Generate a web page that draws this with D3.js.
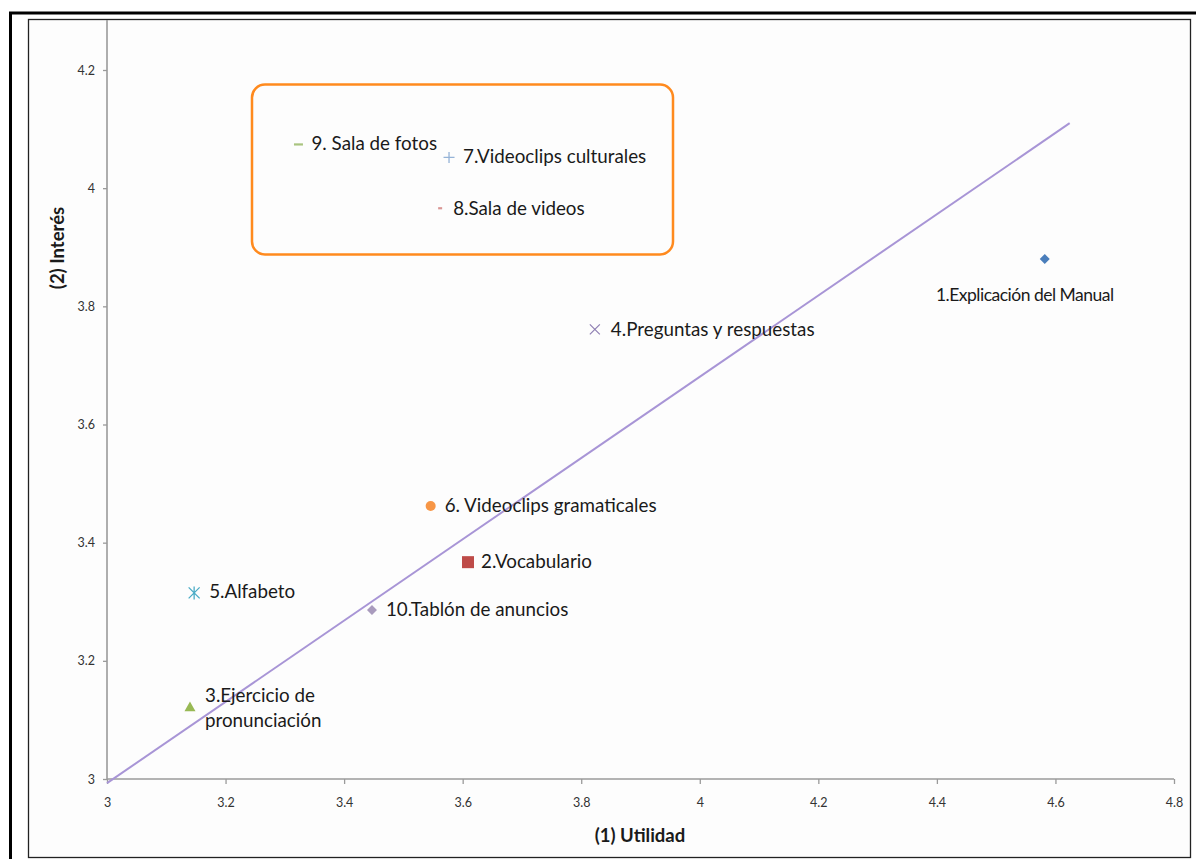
<!DOCTYPE html>
<html>
<head>
<meta charset="utf-8">
<script src="https://cdn.jsdelivr.net/npm/d3@7"></script>
<style>
  body { margin: 0; background: #fff; }
  text { font-family: Lato, "Open Sans", sans-serif; }
</style>
</head>
<body>
<div id="chart"></div>
<script>
// values
var labels = [
    "1.Explicación del Manual", "2.Vocabulario", "3.Ejercicio de\npronunciación",
    "4.Preguntas y respuestas", "5.Alfabeto", "6. Videoclips gramaticales",
    "7.Videoclips culturales", "8.Sala de videos", "9. Sala de fotos",
    "10.Tablón de anuncios"
];
var utilidad = [4.582, 3.609, 3.140, 3.823, 3.147, 3.546, 3.577, 3.562, 3.323, 3.447];
var interes  = [3.880, 3.367, 3.122, 3.761, 3.315, 3.462, 4.052, 3.966, 4.074, 3.286];
var xTicks = [3, 3.2, 3.4, 3.6, 3.8, 4, 4.2, 4.4, 4.6, 4.8];
var yTicks = [3, 3.2, 3.4, 3.6, 3.8, 4, 4.2];
var trendX = [3, 4.624];
var trendY = [2.993, 4.110];

// look of each series (Excel 2007 style markers)
var looks = [
    { sym: "diamond", color: "#4a7ebb", size: 5, dx: -20, dy: 38, anchor: "middle", fs: 17.5, ls: -0.5 },
    { sym: "square",  color: "#be4b48", size: 6, dx: 13, dy: 1 },
    { sym: "triangle", color: "#98b954", size: 5.5, dx: 15, dy: -10 },
    { sym: "x",       color: "#8f7fb3", size: 5, dx: 16, dy: 2 },
    { sym: "star",    color: "#4bacc6", size: 5.5, dx: 15, dy: 0 },
    { sym: "circle",  color: "#f79646", size: 5, dx: 14, dy: 1 },
    { sym: "plus",    color: "#95b3d7", size: 5.5, dx: 14, dy: 1 },
    { sym: "dash",    color: "#d99694", size: 2, dx: 13, dy: 2 },
    { sym: "dash",    color: "#a9c47f", size: 4.5, dx: 13, dy: 1 },
    { sym: "diamond", color: "#a99bbd", size: 5, dx: 14, dy: 1 }
];

var W = 1196, H = 859;
var svg = d3.select("#chart").append("svg")
    .attr("width", W).attr("height", H);

svg.append("rect").attr("width", W).attr("height", H).attr("fill", "#fff");
// outer frame of the scan
svg.append("rect").attr("x", 10.5).attr("y", 13).attr("width", W + 10).attr("height", H + 10)
    .attr("fill", "none").attr("stroke", "#000").attr("stroke-width", 3);
// chart area border
svg.append("rect").attr("x", 28.5).attr("y", 19.5).attr("width", 1162).attr("height", 838)
    .attr("fill", "#fdfdfd").attr("stroke", "#222").attr("stroke-width", 1.3);

var x = d3.scaleLinear().domain([3, 4.8]).range([107, 1174]);
var y = d3.scaleLinear().domain([3, 4.2]).range([779, 70]);

var axisColor = "#9a9a9a";

// x axis
var gx = svg.append("g").attr("transform", "translate(0," + y(3) + ")");
gx.call(d3.axisBottom(x).tickValues(xTicks).tickFormat(d3.format("~g"))
    .tickSizeOuter(0).tickSizeInner(5).tickPadding(14));
// y axis
var gy = svg.append("g").attr("transform", "translate(" + x(3) + ",0)");
gy.call(d3.axisLeft(y).tickValues(yTicks).tickFormat(d3.format("~g"))
    .tickSizeOuter(0).tickSizeInner(4).tickPadding(8));

[gx, gy].forEach(function(g) {
    g.select(".domain").remove();
    g.selectAll(".tick line").attr("stroke", axisColor).attr("stroke-width", 1.3);
    g.selectAll(".tick text").attr("fill", "#333").style("font-size", "12.5px")
        .style("font-family", "Lato, sans-serif");
});
// axis lines drawn separately so the y one runs to the top of the plot
svg.append("line").attr("x1", x(3)).attr("x2", x(4.8)).attr("y1", y(3)).attr("y2", y(3))
    .attr("stroke", axisColor).attr("stroke-width", 1.6);
svg.append("line").attr("x1", x(3)).attr("x2", x(3)).attr("y1", y(3)).attr("y2", 20)
    .attr("stroke", axisColor).attr("stroke-width", 1.6);

// axis titles
svg.append("text").attr("x", 640).attr("y", 842).attr("text-anchor", "middle")
    .style("font-size", "18.5px").style("font-weight", "bold").attr("fill", "#1a1a1a")
    .text("(1) Utilidad");
svg.append("text").attr("transform", "translate(64,248) rotate(-90)").attr("text-anchor", "middle")
    .style("font-size", "18.5px").style("font-weight", "bold").attr("fill", "#1a1a1a")
    .text("(2) Interés");

// orange highlight box
svg.append("rect").attr("x", 252).attr("y", 84.5).attr("width", 421).attr("height", 170)
    .attr("rx", 13).attr("fill", "none").attr("stroke", "#ff8a1e").attr("stroke-width", 2.5);

// trend line
svg.append("line")
    .attr("x1", x(trendX[0])).attr("y1", y(trendY[0]))
    .attr("x2", x(trendX[1])).attr("y2", y(trendY[1]))
    .attr("stroke", "#a895d6").attr("stroke-width", 2);

// markers
var pts = svg.append("g").selectAll("g").data(utilidad).enter().append("g")
    .attr("transform", function(d, i) { return "translate(" + x(d) + "," + y(interes[i]) + ")"; });

pts.each(function(d, i) {
    var g = d3.select(this), s = looks[i].size, c = looks[i].color;
    switch (looks[i].sym) {
    case "diamond":
        g.append("path").attr("d", "M0,-" + s + "L" + s + ",0L0," + s + "L-" + s + ",0Z").attr("fill", c);
        break;
    case "square":
        g.append("rect").attr("x", -s).attr("y", -s).attr("width", 2 * s).attr("height", 2 * s).attr("fill", c);
        break;
    case "triangle":
        g.append("path").attr("d", "M0,-" + s + "L" + s + "," + s * 0.8 + "L-" + s + "," + s * 0.8 + "Z").attr("fill", c);
        break;
    case "circle":
        g.append("circle").attr("r", s).attr("fill", c);
        break;
    case "x":
        g.append("path").attr("d", "M-" + s + ",-" + s + "L" + s + "," + s + "M" + s + ",-" + s + "L-" + s + "," + s)
            .attr("stroke", c).attr("stroke-width", 1.2);
        break;
    case "plus":
        g.append("path").attr("d", "M-" + s + ",0H" + s + "M0,-" + s + "V" + s)
            .attr("stroke", c).attr("stroke-width", 1.3);
        break;
    case "star":
        g.append("path").attr("d", "M-" + s + ",-" + s + "L" + s + "," + s + "M" + s + ",-" + s + "L-" + s + "," + s + "M0,-" + (s + 1) + "V" + (s + 1))
            .attr("stroke", c).attr("stroke-width", 1.3);
        break;
    case "dash":
        g.append("path").attr("d", "M-" + s + ",0H" + s).attr("stroke", c).attr("stroke-width", 2.2);
        break;
    }
});

// labels
pts.append("text")
    .attr("x", function(d, i) { return looks[i].dx; })
    .attr("y", function(d, i) { return looks[i].dy; })
    .attr("text-anchor", function(d, i) { return looks[i].anchor || "start"; })
    .attr("dominant-baseline", "middle")
    .style("font-size", function(d, i) { return (looks[i].fs || 18.8) + "px"; })
    .style("letter-spacing", function(d, i) { return (looks[i].ls || 0) + "px"; })
    .attr("fill", "#1a1a1a")
    .each(function(d, i) {
        var t = d3.select(this), lines = labels[i].split("\n");
        lines.forEach(function(l, k) {
            t.append("tspan").attr("x", looks[i].dx).attr("dy", k ? 25 : 0).text(l);
        });
    });
</script>
</body>
</html>
